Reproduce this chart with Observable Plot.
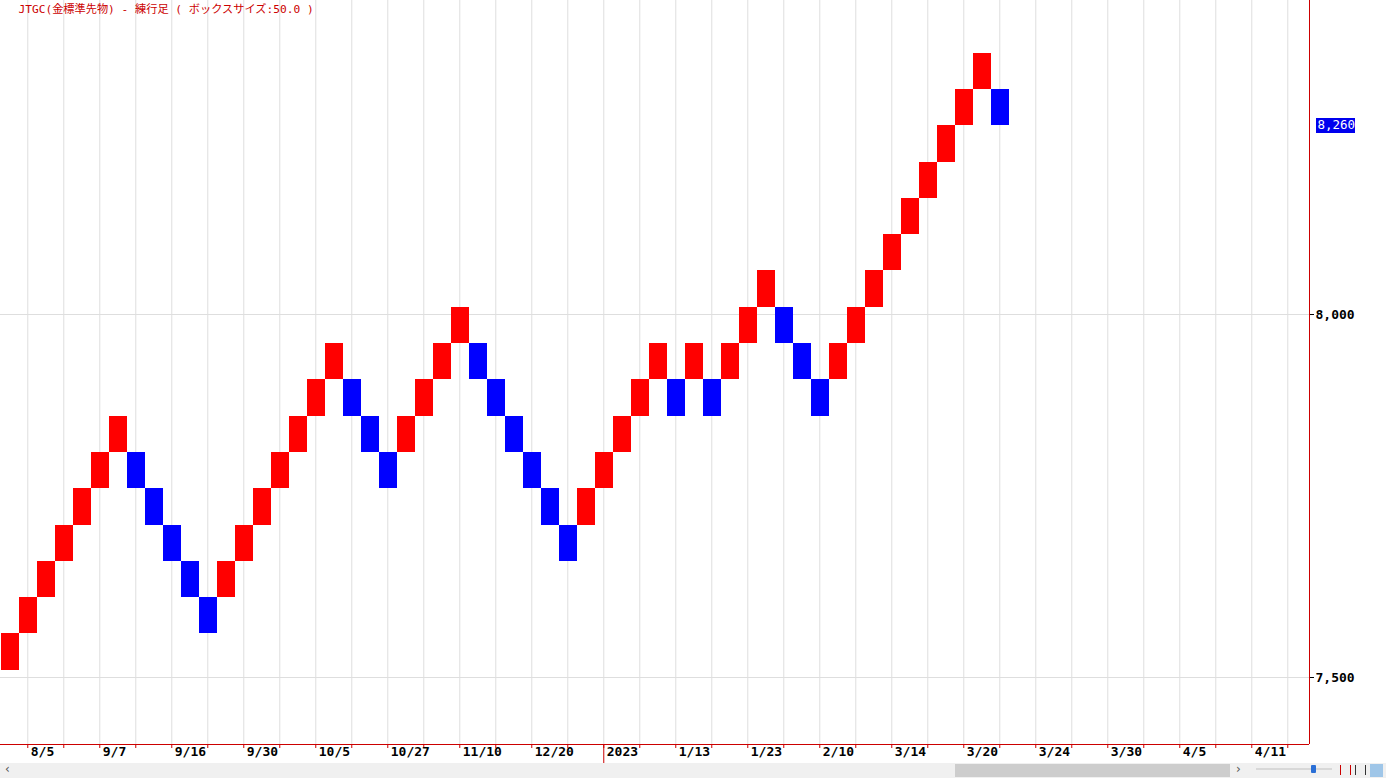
<!DOCTYPE html>
<html>
<head>
<meta charset="utf-8">
<script src="https://cdn.jsdelivr.net/npm/d3@7"></script>
<script src="https://cdn.jsdelivr.net/npm/@observablehq/plot@0.6"></script>
<style>
  html, body { margin: 0; padding: 0; background: #fff; }
  #wrap { position: relative; width: 1386px; height: 778px; overflow: hidden; }
  #bar { position: absolute; left: 0; top: 763px; width: 1386px; height: 15px; background: #f0f0f0; font-family: "DejaVu Sans", sans-serif; font-size: 12px; color: #555; }
  #thumb { position: absolute; left: 955px; top: 1px; width: 275px; height: 13px; background: #cdcdcd; }
  .arr { position: absolute; top: -1px; }
  #track { position: absolute; left: 1256px; top: 5px; width: 76px; height: 2px; background: #d8d8d8; }
  #knob { position: absolute; left: 1311px; top: 2px; width: 5px; height: 8px; background: #2a6fd6; border-radius: 1px; }
  .ico { position: absolute; top: 1px; width: 12px; height: 12px; }
</style>
</head>
<body>
<div id="wrap">
  <div id="chart"></div>
  <div id="bar">
    <span class="arr" style="left:5px">&lsaquo;</span>
    <div id="thumb"></div>
    <span class="arr" style="left:1236px">&rsaquo;</span>
    <div id="track"></div>
    <div id="knob"></div>
    <div class="ico" style="left:1340px;border-left:1px solid #c00;border-right:1px solid #c00;width:9px;height:10px;top:2px"></div>
    <div class="ico" style="left:1355px;border-left:1px solid #333;border-right:1px solid #333;width:9px;height:10px;top:2px"></div>
    <div class="ico" style="left:1370px;background:#9fc6e8;width:13px;height:13px"></div>
  </div>
</div>
<script>
// ---- data (box size 50) ----
const title = "JTGC(金標準先物) - 練行足 ( ボックスサイズ:50.0 )";
const boxSize = 50;
const boxLow = [
  7510, 7560, 7610, 7660, 7710, 7760, 7810,
  7760, 7710, 7660, 7610, 7560,
  7610, 7660, 7710, 7760, 7810, 7860, 7910,
  7860, 7810, 7760,
  7810, 7860, 7910, 7960,
  7910, 7860, 7810, 7760, 7710, 7660,
  7710, 7760, 7810, 7860, 7910,
  7860,
  7910,
  7860,
  7910, 7960, 8010,
  7960, 7910, 7860,
  7910, 7960, 8010, 8060, 8110, 8160, 8210, 8260, 8310,
  8260
];
const boxDir = [
  "U","U","U","U","U","U","U",
  "D","D","D","D","D",
  "U","U","U","U","U","U","U",
  "D","D","D",
  "U","U","U","U",
  "D","D","D","D","D","D",
  "U","U","U","U","U",
  "D",
  "U",
  "D",
  "U","U","U",
  "D","D","D",
  "U","U","U","U","U","U","U","U","U",
  "D"
];
const dateLabels = ["8/5","9/7","9/16","9/30","10/5","10/27","11/10","12/20","2023",
                    "1/13","1/23","2/10","3/14","3/20","3/24","3/30","4/5","4/11"];
const yTicks = [7500, 8000];
const lastPrice = 8260;

// ---- derived tables ----
const boxes = boxLow.map((low, i) => ({col: i, low, high: low + boxSize, dir: boxDir[i]}));
const gridCols = d3.range(1, 72, 2);                     // every other column
const labels = dateLabels.map((label, i) => ({label, col: 1 + 4 * i}));
const yearCol = labels.find(d => d.label === "2023").col;

// layout: 18px per column, 0.726px per yen
const W = 1386, H = 763, mR = 77, mB = 19;
const pxPerCol = 18, pxPerYen = 363 / 500;
const xDomain = [-1 / pxPerCol, (W - mR - 1) / pxPerCol];
const yMin = 7500 - (H - mB - 677) / pxPerYen;
const yMax = 8000 + 314 / pxPerYen;
const fmt = d3.format(",");

const mono = "'DejaVu Sans Mono', 'Liberation Mono', monospace";

const chart = Plot.plot({
  width: W,
  height: H,
  marginLeft: 0,
  marginRight: mR,
  marginTop: 0,
  marginBottom: mB,
  style: {fontFamily: mono, fontSize: "13px", background: "#fff", color: "#000"},
  x: {domain: xDomain, axis: null},
  y: {domain: [yMin, yMax], axis: null},
  color: {domain: ["U", "D"], range: ["#ff0000", "#0000ff"]},
  marks: [
    Plot.ruleX(gridCols, {x: d => d + 0.46, stroke: "#dedede", strokeWidth: 1}),
    Plot.ruleY(yTicks, {stroke: "#dedede", strokeWidth: 1}),
    Plot.rect(boxes, {x1: d => d.col, x2: d => d.col + 1, y1: "low", y2: "high", fill: "dir", shapeRendering: "crispEdges"}),
    // bottom axis line & right axis line
    Plot.ruleY([yMin], {stroke: "#cc0000", strokeWidth: 1}),
    Plot.ruleX([xDomain[1]], {stroke: "#cc0000", strokeWidth: 1}),
    // bottom tick marks
    Plot.ruleX(gridCols, {x: d => d + 0.46, y1: yMin, y2: yMin - 4 / pxPerYen, stroke: "#cc0000"}),
    Plot.ruleX([yearCol], {x: d => d + 0.46, y1: yMin, y2: yMin - 22 / pxPerYen, stroke: "#cc0000"}),
    // x labels
    Plot.text(labels, {x: d => d.col + 0.46, text: "label", frameAnchor: "bottom", dy: 11, dx: 3,
      textAnchor: "start", fontWeight: "bold", fill: "#000"}),
    // y axis on the right
    Plot.axisY(yTicks, {anchor: "right", tickSize: 4, tickPadding: 2, tickFormat: fmt,
      fontWeight: "bold", label: null}),
    // last price label: blue box + white text
    Plot.rect([lastPrice], {
      x1: xDomain[1] + 7 / pxPerCol, x2: xDomain[1] + 46 / pxPerCol,
      y1: d => d - 7.5 / pxPerYen, y2: d => d + 7 / pxPerYen,
      fill: "#0000ee", shapeRendering: "crispEdges"}),
    Plot.text([lastPrice], {x: xDomain[1], y: d => d, text: d => fmt(d), dx: 8, dy: -1,
      textAnchor: "start", fill: "#ffffff", fontSize: 12.5}),
    // title
    Plot.text([title], {frameAnchor: "top-left", dx: 18, dy: 5, lineAnchor: "top", text: d => d,
      fill: "#cc0000", fontSize: 11.2, fontFamily: "'DejaVu Sans Mono', 'Noto Sans CJK JP', monospace"})
  ]
});

document.getElementById("chart").appendChild(chart);
</script>
</body>
</html>
